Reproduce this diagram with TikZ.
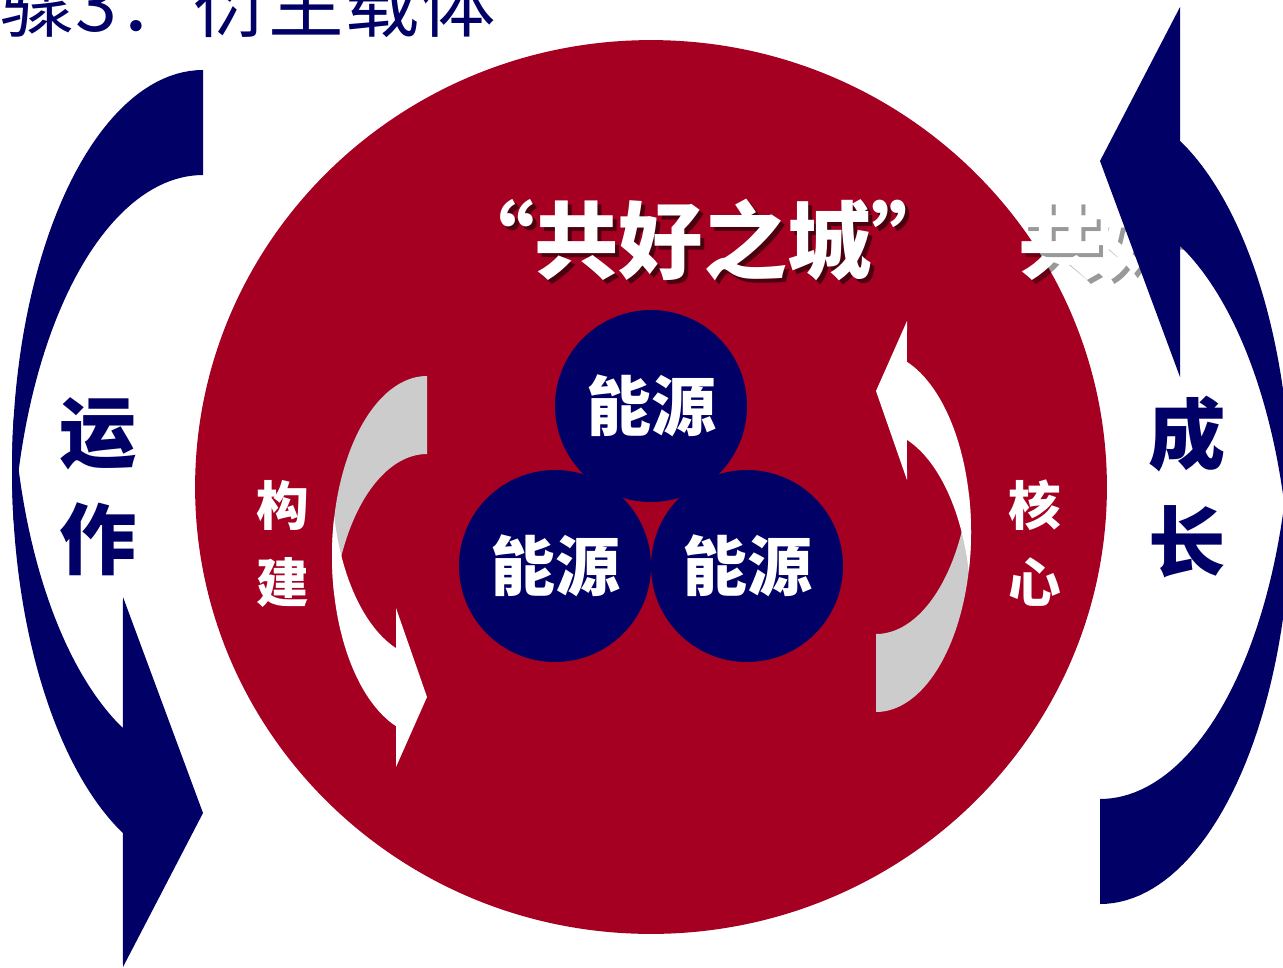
\documentclass[tikz,border=0pt]{standalone}
\usepackage{fontspec}
\newfontfamily\cjk{Noto Sans CJK SC}
\usetikzlibrary{positioning}
\definecolor{mred}{HTML}{A50021}
\definecolor{mnavy}{HTML}{000066}
\definecolor{mgray}{HTML}{CCCCCC}
\tikzstyle{energy} = [circle, minimum size=3.84cm, inner sep=0pt, fill=mnavy, text=white, font=\cjk\bfseries\fontsize{37pt}{37pt}\selectfont]
\tikzstyle{title} = [inner sep=0pt, anchor=base, font=\cjk\bfseries\fontsize{48pt}{48pt}\selectfont]
\tikzstyle{sidelabel} = [align=center, text=mnavy, font=\cjk\bfseries\fontsize{44pt}{61pt}\selectfont]
\tikzstyle{innerlabel} = [align=center, text=white, font=\cjk\bfseries\fontsize{30pt}{44pt}\selectfont]
\tikzstyle{heading} = [inner sep=0pt, anchor=base west, text=mnavy, font=\cjk\fontsize{43pt}{43pt}\selectfont]

\begin{document}
\begin{tikzpicture}[x=0.02cm, y=-0.02cm]
  \useasboundingbox[fill=white] (0,0) rectangle (1283,967);
  \node[heading] (head) at (0,31) {骤3：衍生载体};
  \fill[mred] (651,487) ellipse [x radius=9.12cm, y radius=8.94cm];
  % inner arrows
  \foreach \ang in {0,180} {
    \begin{scope}[rotate around={\ang:(651.5,544)}]
      \fill[mgray] plot[domain=270:167.5, samples=50] ({427+95*cos(\x)},{556+180*sin(\x)})
        -- plot[domain=192.5:270, samples=50] ({427+95*cos(\x)},{634+180*sin(\x)}) -- cycle;
      \fill[white] plot[domain=192.5:109, samples=50] ({427+95*cos(\x)},{556+180*sin(\x)})
        -- (396,767) -- (427,697) -- (396,608)
        -- plot[domain=109:167.5, samples=50] ({427+95*cos(\x)},{478+180*sin(\x)}) -- cycle;
    \end{scope}
  }
  \node[energy] (e1) at (651,406) {能源};
  \node[energy] (e2) at (555,566) {能源};
  \node[energy] (e3) at (747,566) {能源};
  \node[title, text=black, opacity=.55] (titleshadow) at (707,276) {“共好之城”};
  \node[title, text=white] (title) at (703,272) {“共好之城”};
  \node[title, anchor=base west, text=black, opacity=.4] (title2shadow) at (1022,276) {共好};
  \node[title, anchor=base west, text=white] (title2) at (1018,272) {共好};
  % outer arrows
  \foreach \ang in {0,180} {
    \begin{scope}[rotate around={\ang:(651.5,487)}]
      \fill[mnavy] plot[domain=270:172.5, samples=50] ({203+191*cos(\x)},{470+400*sin(\x)})
        -- plot[domain=187.5:270, samples=50] ({203+191*cos(\x)},{575+400*sin(\x)}) -- cycle;
      \fill[mnavy] plot[domain=187.5:114.8, samples=50] ({203+191*cos(\x)},{470+400*sin(\x)})
        -- (123,967) -- (203,813) -- (123,597)
        -- plot[domain=114.8:172.5, samples=50] ({203+191*cos(\x)},{365+400*sin(\x)}) -- cycle;
    \end{scope}
  }
  \node[sidelabel] (yunzuo) at (98,487) {运\\作};
  \node[sidelabel] (chengzhang) at (1187,487) {成\\长};
  \node[innerlabel] (goujian) at (283,544) {构\\建};
  \node[innerlabel] (hexin) at (1035,543) {核\\心};
\end{tikzpicture}
\end{document}
